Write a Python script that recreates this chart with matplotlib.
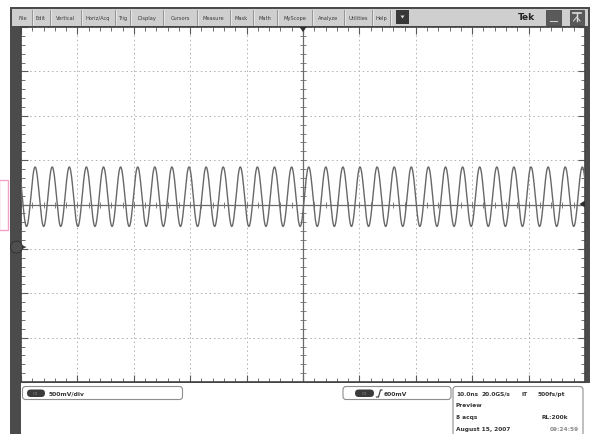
import numpy as np
import matplotlib
matplotlib.use("Agg")
import matplotlib.pyplot as plt
from matplotlib.patches import Rectangle, FancyBboxPatch, Circle, Polygon

# --- values ---
menu_labels = ["File", "Edit", "Vertical", "Horiz/Acq", "Trig", "Display", "Cursors",
               "Measure", "Mask", "Math", "MyScope", "Analyze", "Utilities", "Help"]
menu_edges = [13, 31.7, 50, 81, 115, 130, 163, 197, 230, 253, 277, 312, 344, 372, 390]

time_per_div_ns = 10.0      # 10.0ns
volts_per_div_mv = 500.0    # 500mV/div
n_hdiv, n_vdiv = 10, 8

trace_amp_mv = 335.0        # peak amplitude
trace_offset_mv = 88.0      # trace centre above centre line
trace_period_ns = 3.032     # ~330 MHz
trace_first_peak_ns = -47.5
ground_level_mv = -480.0

ch_scale = "500mV/div"
trig_level = "600mV"
readout_row1 = ["10.0ns", "20.0GS/s", "IT", "500fs/pt"]
readout_mode = "Preview"
readout_acqs = "8 acqs"
readout_rl = "RL:200k"
readout_date = "August 15, 2007"
readout_time = "09:24:59"

W, H = 592, 435
fig = plt.figure(figsize=(W / 100, H / 100), dpi=100)
fig.patch.set_facecolor("white")

# background layer in pixel coordinates
bg = fig.add_axes([0, 0, 1, 1], zorder=0)
bg.set_xlim(0, W)
bg.set_ylim(H, 0)
bg.axis("off")

dark = "#4b4b4b"
bg.add_patch(Rectangle((10, 7.5), 579.5, H - 7.5, fc=dark, ec="none"))
bg.add_patch(Rectangle((12, 9.5), 575.5, 17.5, fc="#cfcfcf", ec="none"))
bg.add_patch(Rectangle((21, 383.5), W - 21, H - 383.5, fc="white", ec="none"))

# menu bar
for x in menu_edges[1:]:
    bg.plot([x, x], [11, 25.5], color="#8c8c8c", lw=0.6)
    bg.plot([x + 0.9, x + 0.9], [11, 25.5], color="#f0f0f0", lw=0.5)
for lab, a, b in zip(menu_labels, menu_edges[:-1], menu_edges[1:]):
    bg.text((a + b) / 2, 18.5, lab, fontsize=3.7, color="#3a3a3a",
            ha="center", va="center")
bg.add_patch(Rectangle((396, 11), 13, 14, fc="#383838", ec="none"))
bg.add_patch(Polygon([[400.5, 16.5], [404.5, 16.5], [402.5, 19.5]], fc="#dddddd", ec="none"))
bg.text(526.5, 18, "Tek", fontsize=6.5, fontweight="bold", color="#222222",
        ha="center", va="center")
bg.add_patch(Rectangle((546, 11), 15, 14.5, fc="#5a5a5a", ec="#3a3a3a", lw=0.5))
bg.plot([550, 557], [21.5, 21.5], color="#cccccc", lw=0.8)
bg.add_patch(Rectangle((570, 11), 13.5, 14.5, fc="#5a5a5a", ec="#3a3a3a", lw=0.5))
bg.plot([572.5, 581], [14, 14], color="#dddddd", lw=1.2)
bg.plot([576.7, 576.7], [14, 22], color="#dddddd", lw=1.0)
bg.plot([573.5, 576.7, 580], [22, 18, 22], color="#dddddd", lw=0.7)

# pink marker at the left edge
bg.add_patch(Rectangle((-1, 181), 8.5, 50, fc="none", ec="#f2a2c6", lw=1.0))

# bottom readout boxes
def rbox(x0, y0, w, h, r=3):
    bg.add_patch(FancyBboxPatch((x0, y0), w, h, boxstyle=f"round,pad=0,rounding_size={r}",
                                fc="white", ec="#8e8e8e", lw=0.8))

def pill(x0, y0, w, h, label):
    bg.add_patch(FancyBboxPatch((x0, y0), w, h, boxstyle=f"round,pad=0,rounding_size={h / 2}",
                                fc="#3b3b3b", ec="none"))
    bg.text(x0 + w / 2, y0 + h / 2, label, fontsize=3.2, color="#8a8a8a",
            ha="center", va="center")

rbox(22.5, 387.5, 160, 13)
pill(27, 390.5, 18, 7.5, "C1")
bg.text(49, 394.3, ch_scale, fontsize=4.3, fontweight="bold", color="#333333", va="center")

rbox(343, 387.5, 108, 13)
pill(355, 390.5, 19, 7.5, "C1")
bg.plot([376.5, 378.5, 380.5, 382], [398, 398, 391, 391], color="#333333", lw=0.8)
bg.text(383.5, 394.3, trig_level, fontsize=4.3, fontweight="bold", color="#333333", va="center")

rbox(453, 387.5, 130, 60)
fk = dict(fontsize=4.2, fontweight="bold", color="#333333", va="center")
for s, x in zip(readout_row1, [456, 481, 521, 538]):
    bg.text(x, 394.5, s, **fk)
bg.text(456, 406, readout_mode, **fk)
bg.text(456, 418, readout_acqs, **fk)
bg.text(568, 418, readout_rl, ha="right", **fk)
bg.text(456, 430, readout_date, **fk)
bg.text(579, 430, readout_time, ha="right", fontsize=4.2, fontweight="bold",
        color="#8a8a8a", va="center")

# graticule area
gx0, gx1, gy0, gy1 = 21, 585, 28, 383
ax = fig.add_axes([gx0 / W, (H - gy1) / H, (gx1 - gx0) / W, (gy1 - gy0) / H], zorder=1)
ax.set_facecolor("white")
half_t = time_per_div_ns * n_hdiv / 2
half_v = volts_per_div_mv * n_vdiv / 2
ax.set_xlim(-half_t, half_t)
ax.set_ylim(-half_v, half_v)
ax.set_xticks(np.linspace(-half_t, half_t, n_hdiv + 1))
ax.set_yticks(np.linspace(-half_v, half_v, n_vdiv + 1))
ax.set_xticks(np.arange(-half_t, half_t + 0.01, time_per_div_ns / 5), minor=True)
ax.set_yticks(np.arange(-half_v, half_v + 0.01, volts_per_div_mv / 5), minor=True)
ax.tick_params(which="both", direction="in", top=True, right=True,
               labelbottom=False, labelleft=False, color="#5a5a5a")
ax.tick_params(which="major", length=5, width=0.8)
ax.tick_params(which="minor", length=3, width=0.6)
for sp in ax.spines.values():
    sp.set_color("#444444")
    sp.set_linewidth(1.2)
ax.grid(True, which="major", color="#b0b0b0", linestyle=(0, (1.5, 3)), lw=0.7)

# centre cross with minor ticks
ax.axhline(0, color="#6a6a6a", lw=0.9, zorder=2)
ax.axvline(0, color="#6a6a6a", lw=0.9, zorder=2)
tx = np.arange(-half_t, half_t + 0.01, time_per_div_ns / 5)
ty = np.arange(-half_v, half_v + 0.01, volts_per_div_mv / 5)
ax.plot(tx, np.zeros_like(tx), ls="none", marker="|", ms=4, mew=0.6, color="#6a6a6a", zorder=2)
ax.plot(np.zeros_like(ty), ty, ls="none", marker="_", ms=4, mew=0.6, color="#6a6a6a", zorder=2)

# waveform
t = np.linspace(-half_t, half_t, 3000)
v = trace_offset_mv + trace_amp_mv * np.cos(2 * np.pi * (t - trace_first_peak_ns) / trace_period_ns)
ax.plot(t, v, color="#686868", lw=1.0, zorder=3)

# markers on top
fg = fig.add_axes([0, 0, 1, 1], zorder=2)
fg.set_xlim(0, W)
fg.set_ylim(H, 0)
fg.axis("off")
fg.patch.set_alpha(0)
gy = gy0 + (half_v - ground_level_mv) / (2 * half_v) * (gy1 - gy0)
fg.add_patch(Polygon([[20, gy - 3], [26.5, gy], [20, gy + 3]], fc="#3e3e3e", ec="none"))
fg.add_patch(Circle((16.5, gy), 6, fc="#4f4f4f", ec="#2e2e2e", lw=0.6))
fg.add_patch(Polygon([[299.5, 28], [306.5, 28], [303, 33]], fc="#2e2e2e", ec="none"))
fg.add_patch(Polygon([[585, 201.5], [585, 208.5], [579.5, 205]], fc="#2e2e2e", ec="none"))

fig.savefig("out.png", dpi=100)
